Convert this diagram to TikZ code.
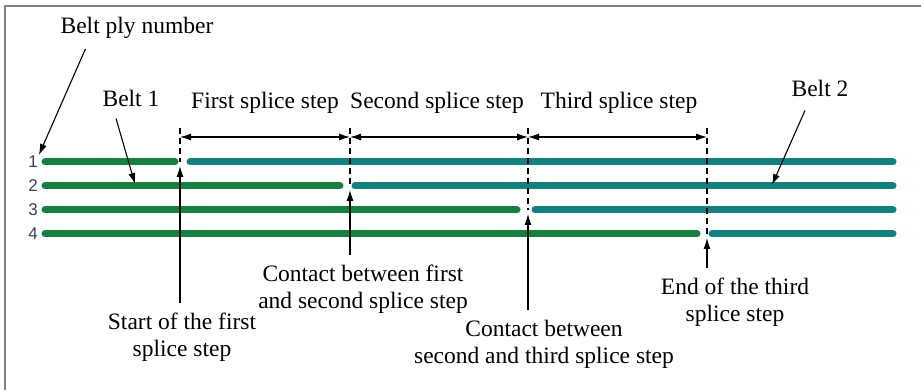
\documentclass[tikz,border=0pt]{standalone}
\usepackage{fontspec}
\newfontfamily\lblfont{Liberation Serif}[Ligatures=TeX]
\newfontfamily\numfont{Liberation Sans}
\usetikzlibrary{arrows.meta}

\definecolor{beltgreen}{RGB}{22,128,64}
\definecolor{beltteal}{RGB}{18,128,128}
\definecolor{numcolor}{RGB}{70,60,80}

\tikzset{
  lbl/.style={font=\lblfont\fontsize{23.5}{27}\selectfont, align=center, inner sep=2pt},
  num/.style={font=\numfont\fontsize{17}{17}\selectfont, text=numcolor, inner sep=1pt},
  greenbelt/.style={line width=7pt, line cap=round, beltgreen},
  tealbelt/.style={line width=7pt, line cap=round, beltteal},
  guide/.style={line width=1.1pt, dash pattern=on 6pt off 4pt},
  ptr/.style={line width=1.1pt, -{Latex[length=11pt,width=7pt]}},
  dim/.style={line width=1.1pt, {Latex[length=11pt,width=7pt]}-{Latex[length=11pt,width=7pt]}}
}

\begin{document}
\begin{tikzpicture}[x=1pt,y=-1pt]
\useasboundingbox (0,0) rectangle (921,390);

% frame
\draw[line width=2pt, gray] (5,390) -- (5,6) -- (921,6);

% belts
\foreach \y/\ge/\ts [count=\i] in {162/175/190, 186/340/355, 210/517/535, 234/697/712} {
  \node[num] (n\i) at (33,\y) {\i};
  \draw[greenbelt] (45,\y) -- (\ge,\y);
  \draw[tealbelt] (\ts,\y) -- (893,\y);
}

% splice step borders
\foreach \x/\y [count=\i] in {180/162, 350/186, 528/210, 707/234} {
  \coordinate (d\i) at (\x,128);
  \coordinate (t\i) at (\x,\y+4);
  \draw[guide] (d\i) -- (\x,\y);
}

% step lengths
\draw[dim] ([yshift=-9pt]d1) -- ([yshift=-9pt]d2);
\draw[dim] ([yshift=-9pt]d2) -- ([yshift=-9pt]d3);
\draw[dim] ([yshift=-9pt]d3) -- ([yshift=-9pt]d4);
\node[lbl] (s1) at (265,103) {First splice step};
\node[lbl] (s2) at (437,103) {Second splice step};
\node[lbl] (s3) at (619,103) {Third splice step};

% belt labels
\node[lbl] (ply) at (137,28) {Belt ply number};
\node[lbl] (belt1) at (131,98) {Belt 1};
\node[lbl] (belt2) at (820,88) {Belt 2};
\coordinate (b1tip) at (135,184);
\coordinate (b2tip) at (772,185);
\draw[ptr] ([xshift=27pt,yshift=-8pt]ply.south west) -- (n1.north east);
\draw[ptr] ([xshift=-15pt,yshift=-10pt]belt1.south) -- (b1tip);
\draw[ptr] ([xshift=-15pt,yshift=-12pt]belt2.south) -- (b2tip);

% bottom labels
\node[lbl] (start) at (182,337) {Start of the first\\splice step};
\node[lbl] (c12) at (363,289) {Contact between first\\and second splice step};
\node[lbl] (c23) at (544,344) {Contact between\\second and third splice step};
\node[lbl] (end) at (735,302) {End of the third\\splice step};

\draw[ptr] ([yshift=8pt]start.north -| t1) -- (t1);
\draw[ptr] ([yshift=8pt]c12.north -| t2) -- (t2);
\draw[ptr] ([yshift=8pt]c23.north -| t3) -- (t3);
\draw[ptr] ([yshift=8pt]end.north -| t4) -- (t4);
\end{tikzpicture}
\end{document}
